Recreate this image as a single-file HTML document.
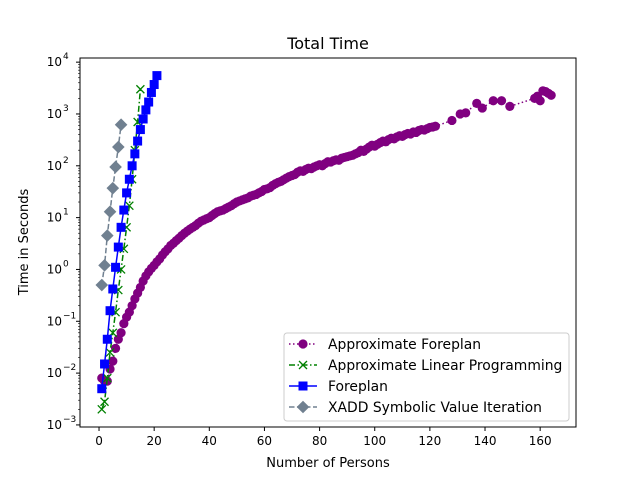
<!DOCTYPE html>
<html><head><meta charset="utf-8"><style>
html,body{margin:0;padding:0;background:#fff}
svg{display:block;font-family:"DejaVu Sans","Liberation Sans",sans-serif}
</style></head><body>
<svg id="chart" width="640" height="480" viewBox="0 0 640 480">
<rect width="640" height="480" fill="#fff"/>
<text x="328" y="49" font-size="16" text-anchor="middle">Total Time</text>
<text x="328" y="467" font-size="13" text-anchor="middle">Number of Persons</text>
<text transform="translate(28,242) rotate(-90)" font-size="13" text-anchor="middle">Time in Seconds</text>
<g id="grid"></g>
<g id="series"></g>
<rect x="80" y="58" width="496" height="369" fill="none" stroke="#000" stroke-width="1"/>
<g id="legend"></g>
</svg>
<script>
const xTicks=[0,20,40,60,80,100,120,140,160];
const yTickExps=[-3,-2,-1,0,1,2,3,4];
const foreplanX=[1,2,3,4,5,6,7,8,9,10,11,12,13,14,15,16,17,18,19,20,21];
const foreplanY=[0.005,0.015,0.045,0.16,0.42,1.1,2.7,6.5,14,30,55,100,170,300,500,800,1200,1700,2600,3700,5500];
const alpX=[1,2,3,4,5,6,7,8,9,10,11,12,13,14,15];
const alpY=[0.002,0.0028,0.008,0.025,0.06,0.15,0.4,1.0,2.5,6.5,17,55,200,700,3000];
const xaddX=[1,2,3,4,5,6,7,8];
const xaddY=[0.5,1.2,4.5,13,37,95,230,620];
const afX=[];for(let i=1;i<=122;i++)afX.push(i);
afX.push(128,131,133,137,139,143,146,149,158,159,160,161,162,163,164);
const afY=[.008,.007,.007,.012,.017,.03,.045,.06,.09,.12,
.15,.2,.27,.35,.45,.6,.75,.9,1.05,1.2,
1.4,1.6,1.9,2.2,2.5,2.9,3.2,3.6,4.0,4.5,
5.0,5.5,6.0,6.5,7.0,7.8,8.5,9.0,9.5,10,
11,12,13,13.5,14,15,16,17,18.5,20,
21,22,23,24,26,27,28,30,32,35,
36,38,42,45,48,50,54,58,62,65,
68,75,80,78,85,90,88,95,100,105,
100,110,120,118,125,130,128,140,145,150,
155,160,170,180,200,190,210,230,250,240,
260,280,300,290,320,340,330,360,380,370,
400,420,410,450,440,480,500,490,520,550,
560,580,
750,1000,1050,1600,1300,1800,1800,1400,2000,2200,1800,2800,2700,2500,2300];

const NS='http://www.w3.org/2000/svg';
const X0=80,X1=576,Y0=58,Y1=427;
const xMin=-6.9,xMax=173,yMinE=-3.04,yMaxE=4.08;
function sx(v){return X0+(v-xMin)/(xMax-xMin)*(X1-X0);}
function sy(v){return Y1-(Math.log10(v)-yMinE)/(yMaxE-yMinE)*(Y1-Y0);}
function mk(tag,attrs,parent){const e=document.createElementNS(NS,tag);for(const k in attrs)e.setAttribute(k,attrs[k]);parent.appendChild(e);return e;}
const grid=document.getElementById('grid'),ser=document.getElementById('series'),leg=document.getElementById('legend');

xTicks.forEach(t=>{
  const x=sx(t);
  const tk=mk('line',{x1:x,x2:x,y1:Y1,y2:Y1+4,stroke:'#000'},grid);
  
  
  const tx=mk('text',{x:x,y:Y1+18,'font-size':12,'text-anchor':'middle'},grid);
  tx.textContent=t;
  
  
});
yTickExps.forEach(e=>{
  const y=sy(Math.pow(10,e));
  const tk=mk('line',{x1:X0-4,x2:X0,y1:y,y2:y,stroke:'#000'},grid);
  
  
  const tx=mk('text',{x:X0-18,y:y+4,'font-size':12,'text-anchor':'end'},grid);
  tx.textContent='10';
  
  
  const sp=mk('text',{x:X0-17,y:y-3,'font-size':9,'text-anchor':'start'},grid);
  sp.textContent=e<0?'\u2212'+(-e):String(e);
  
  
  if(e<4){for(let m=2;m<=9;m++){const yy=sy(m*Math.pow(10,e));
    const mt=mk('line',{x1:X0-2,x2:X0,y1:yy,y2:yy,stroke:'#000','stroke-width':0.6},grid);
    
    }}
});

function marker(type,x,y,color,g){
  let e;
  if(type==='o')e=mk('circle',{cx:x,cy:y,r:4.6,fill:color},g);
  else if(type==='s')e=mk('rect',{x:x-4.5,y:y-4.5,width:9,height:9,fill:color},g);
  else if(type==='D')e=mk('polygon',{points:`${x},${y-6.3} ${x+6.3},${y} ${x},${y+6.3} ${x-6.3},${y}`,fill:color},g);
  else e=mk('path',{d:`M${x-4},${y-4}L${x+4},${y+4}M${x-4},${y+4}L${x+4},${y-4}`,stroke:color,'stroke-width':1.3,fill:'none'},g);
  return e;
}
function series(name,xs,ys,color,dash,type){
  const g=mk('g',{},ser);
  
  
  const pts=xs.map((v,i)=>sx(v)+','+sy(ys[i])).join(' ');
  const pl=mk('polyline',{points:pts,fill:'none',stroke:color,'stroke-width':1.5,'stroke-dasharray':dash},g);
  
  
  xs.forEach((v,i)=>{const m=marker(type,sx(v),sy(ys[i]),color,g);
    
    });
}
series('approximate-foreplan',afX,afY,'#800080','1.5 2.5','o');
series('approximate-linear-programming',alpX,alpY,'#008000','6 2.5 1.5 2.5','x');
series('foreplan',foreplanX,foreplanY,'#0000ff','none','s');
series('xadd-symbolic-value-iteration',xaddX,xaddY,'#708090','5.5 2.5','D');

const lb=mk('rect',{x:284,y:333,width:285,height:88,rx:3,fill:'#fff','fill-opacity':0.8,stroke:'#ccc'},leg);


const entries=[['Approximate Foreplan','#800080','1.5 2.5','o'],['Approximate Linear Programming','#008000','6 2.5 1.5 2.5','x'],['Foreplan','#0000ff','none','s'],['XADD Symbolic Value Iteration','#708090','5.5 2.5','D']];
entries.forEach((en,i)=>{
  const y=344+i*21;
  const g=mk('g',{},leg);
  
  
  mk('line',{x1:289,x2:317,y1:y,y2:y,stroke:en[1],'stroke-width':1.5,'stroke-dasharray':en[2]},g);
  marker(en[3],303,y,en[1],g);
  const t=mk('text',{x:328,y:y+5,'font-size':13.9},g);
  t.textContent=en[0];
});
</script>
</body></html>
